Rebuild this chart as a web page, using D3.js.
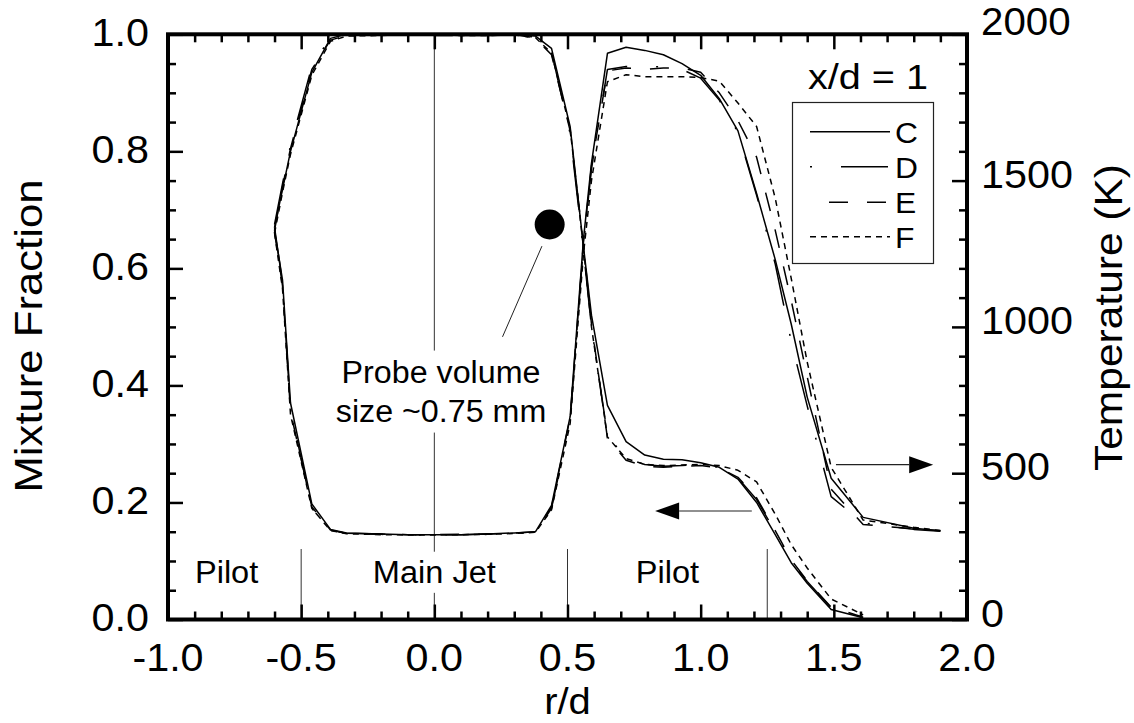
<!DOCTYPE html>
<html>
<head>
<meta charset="utf-8">
<script src="https://cdn.jsdelivr.net/npm/d3@7"></script>
<style>
  html, body { margin: 0; padding: 0; background: #fff; }
  svg { display: block; }
  text { font-family: "Liberation Sans", Arial, Helvetica, sans-serif; fill: #000; }
</style>
</head>
<body>
<svg id="chart" width="1134" height="723"></svg>
<script>
// ---------------- data ----------------
const seriesNames = ["C", "D", "E", "F"];
const rGrid = [-0.60, -0.57, -0.54, -0.46, -0.39, -0.33, -0.20, -0.10, 0.00, 0.10, 0.20, 0.30,
  0.38, 0.44, 0.51, 0.56, 0.59, 0.65, 0.72, 0.79, 0.86, 0.93, 1.00, 1.07, 1.14, 1.21, 1.28,
  1.34, 1.40, 1.49, 1.61, 1.80, 1.90];

// mixture fraction (left axis)
const mixC = [0.670, 0.735, 0.800, 0.935, 0.993, 1.000, 1.000, 1.000, 1.000, 1.000, 1.000, 1.000,
  0.997, 0.976, 0.842, 0.637, 0.520, 0.366, 0.304, 0.281, 0.274, 0.273, 0.268, 0.260, 0.240, 0.200, 0.145,
  0.097, 0.062, 0.017, 0.003, null, null];
const mixD = [0.675, 0.745, 0.810, 0.945, 0.995, 0.999, 1.000, 1.000, 0.999, 0.998, 0.998, 0.999,
  0.995, 0.970, 0.830, 0.630, 0.500, 0.315, 0.275, 0.265, 0.262, 0.263, 0.265, 0.260, 0.242, 0.205, 0.150,
  0.100, 0.065, 0.020, 0.004, null, null];
const mixE = [0.665, 0.740, 0.805, 0.940, 0.990, 0.998, 0.999, 0.999, 0.998, 0.998, 0.999, 1.000,
  0.993, 0.965, 0.835, 0.640, 0.505, 0.310, 0.272, 0.262, 0.260, 0.262, 0.263, 0.259, 0.243, 0.208, 0.152,
  0.102, 0.066, 0.021, 0.004, null, null];
const mixF = [0.660, 0.730, 0.795, 0.930, 0.988, 0.997, 0.998, 0.999, 0.999, 0.998, 0.998, 0.999,
  0.994, 0.968, 0.838, 0.635, 0.500, 0.312, 0.275, 0.265, 0.263, 0.264, 0.265, 0.263, 0.255, 0.235, 0.180,
  0.128, 0.088, 0.035, 0.008, null, null];

// temperature in K (right axis)
const tempC = [1330, 1160, 740, 395, 308, 296, 292, 290, 290, 290, 292, 296,
  300, 390, 694, 1300, 1560, 1935, 1956, 1945, 1930, 1900, 1860, 1780, 1670, 1456, 1230,
  1010, 760, 483, 349, 312, 303];
const tempD = [1340, 1150, 720, 380, 305, 295, 292, 290, 289, 290, 292, 295,
  298, 380, 680, 1280, 1540, 1880, 1890, 1887, 1890, 1880, 1850, 1775, 1665, 1450, 1215,
  950, 730, 420, 330, 308, 302];
const tempE = [1325, 1140, 710, 385, 306, 294, 291, 290, 290, 291, 292, 295,
  300, 385, 690, 1290, 1550, 1875, 1885, 1880, 1885, 1885, 1870, 1800, 1705, 1580, 1330,
  1090, 830, 445, 325, 310, 303];
const tempF = [1320, 1130, 700, 380, 304, 293, 290, 289, 289, 290, 291, 294,
  298, 375, 670, 1250, 1500, 1838, 1862, 1855, 1855, 1855, 1852, 1840, 1765, 1685, 1440,
  1166, 880, 520, 340, 315, 304];

const xTicksMajor = [-1.0, -0.5, 0.0, 0.5, 1.0, 1.5, 2.0];
const xTickLabels = ["-1.0", "-0.5", "0.0", "0.5", "1.0", "1.5", "2.0"];
const yTicksMajor = [0.0, 0.2, 0.4, 0.6, 0.8, 1.0];
const yTickLabels = ["0.0", "0.2", "0.4", "0.6", "0.8", "1.0"];
const tTicksMajor = [0, 500, 1000, 1500, 2000];
const tTickLabels = ["0", "500", "1000", "1500", "2000"];

const regionBounds = [-0.5, 0.5, 1.25];
const regionLabels = [{text: "Pilot", r: -0.78}, {text: "Main Jet", r: 0.0}, {text: "Pilot", r: 0.875}];

// ---------------- layout ----------------
const svg = d3.select("#chart");
const L = 168, R = 967, T = 34.3, B = 619.5;
const x = d3.scaleLinear().domain([-1, 2]).range([L, R]);
const y = d3.scaleLinear().domain([0, 1]).range([B, T]);
const yT = d3.scaleLinear().domain([0, 2000]).range([B, T]);

function addText(parent, px, py, str, size, anchor, sx, rot) {
  const g = parent.append("g").attr("transform", `translate(${px},${py})` + (rot ? ` rotate(${rot})` : ""));
  return g.append("text")
    .attr("transform", `scale(${sx},1)`)
    .attr("text-anchor", anchor)
    .style("font-size", size + "px")
    .text(str);
}

// reference lines
const refG = svg.append("g").attr("stroke", "#333").attr("stroke-width", 1);
refG.append("line").attr("x1", x(0)).attr("x2", x(0)).attr("y1", T).attr("y2", B);
regionBounds.forEach(v => {
  refG.append("line").attr("x1", x(v)).attr("x2", x(v)).attr("y1", 549).attr("y2", B);
});

// region labels with white boxes
const labG = svg.append("g");
regionLabels.forEach(d => {
  const t = addText(labG, x(d.r), 583, d.text, 31, "middle", 1.05, 0);
  if (d.text === "Main Jet") {
    const bb = t.node().getBBox();
    labG.insert("rect", ":first-child")
      .attr("x", x(d.r) + bb.x * 1.05 - 4).attr("y", 583 + bb.y - 3)
      .attr("width", bb.width * 1.05 + 8).attr("height", bb.height + 6)
      .attr("fill", "#fff");
  }
});

// probe annotation
const probeG = svg.append("g");
const p1 = addText(probeG, 441, 383, "Probe volume", 31, "middle", 1.04, 0);
const p2 = addText(probeG, 441, 421.7, "size ~0.75 mm", 31, "middle", 1.04, 0);
{
  const b1 = p1.node().getBBox(), b2 = p2.node().getBBox();
  const w = Math.max(b1.width, b2.width) * 1.04;
  probeG.insert("rect", ":first-child")
    .attr("x", 441 - w / 2 - 4).attr("y", 383 + b1.y - 4)
    .attr("width", w + 8).attr("height", (421.7 + b2.y + b2.height) - (383 + b1.y) + 8)
    .attr("fill", "#fff");
}
const probeDot = {r: 0.433, f: 0.675};
const leader = [{r: 0.404, f: 0.638}, {r: 0.256, f: 0.483}];
svg.append("circle").attr("cx", x(probeDot.r)).attr("cy", y(probeDot.f)).attr("r", 15).attr("fill", "#000");
svg.append("line").attr("x1", x(leader[0].r)).attr("y1", y(leader[0].f))
  .attr("x2", x(leader[1].r)).attr("y2", y(leader[1].f))
  .attr("stroke", "#222").attr("stroke-width", 1);

// arrows
function arrow(r0, r1, f) {
  const x0 = x(r0), x1 = x(r1), yy = y(f);
  const dir = Math.sign(x1 - x0);
  const head = 24, hh = 8.5;
  svg.append("line").attr("x1", x0).attr("x2", x1 - dir * head).attr("y1", yy).attr("y2", yy)
    .attr("stroke", "#222").attr("stroke-width", 1.2);
  svg.append("path")
    .attr("d", `M${x1},${yy}L${x1 - dir * head},${yy - hh}L${x1 - dir * head},${yy + hh}Z`)
    .attr("fill", "#000");
}
arrow(1.508, 1.873, 0.2645);
arrow(1.192, 0.829, 0.1854);

// curves
const dashes = {C: null, D: "47,29,2,29", E: "19,19", F: "6,5"};
const mixData = {C: mixC, D: mixD, E: mixE, F: mixF};
const tempData = {C: tempC, D: tempD, E: tempE, F: tempF};
const curveG = svg.append("g").attr("fill", "none").attr("stroke", "#000").attr("stroke-width", 1.5)
  .attr("stroke-linejoin", "round");
const lineMix = d3.line().defined(d => d[1] != null).x(d => x(d[0])).y(d => y(d[1]));
const lineTemp = d3.line().defined(d => d[1] != null).x(d => x(d[0])).y(d => yT(d[1]));
seriesNames.forEach(s => {
  curveG.append("path").attr("d", lineMix(rGrid.map((r, i) => [r, mixData[s][i]])))
    .attr("stroke-dasharray", dashes[s]);
  curveG.append("path").attr("d", lineTemp(rGrid.map((r, i) => [r, tempData[s][i]])))
    .attr("stroke-dasharray", dashes[s]);
});

// axes ticks (inward)
const axG = svg.append("g");
function ticks(axisFn, scale, values, size, tx, ty) {
  const a = axisFn(scale).tickValues(values).tickSize(size).tickFormat("");
  const g = axG.append("g").attr("transform", `translate(${tx},${ty})`).call(a);
  g.select(".domain").remove();
  g.selectAll("line").attr("stroke", "#000").attr("stroke-width", 2.5);
}
const xMinor = d3.range(-10, 21).map(i => i / 10).filter(v => Math.abs(v * 2 - Math.round(v * 2)) > 1e-6);
const yMinor = d3.range(0, 21).map(i => i / 20).filter(v => Math.abs(v * 5 - Math.round(v * 5)) > 1e-6);
const tMinor = d3.range(0, 21).map(i => i * 100).filter(v => v % 500 !== 0);
ticks(d3.axisBottom, x, xTicksMajor, -15, 0, B);
ticks(d3.axisBottom, x, xMinor, -8, 0, B);
ticks(d3.axisTop, x, xTicksMajor, -15, 0, T);
ticks(d3.axisTop, x, xMinor, -8, 0, T);
ticks(d3.axisLeft, y, yTicksMajor, -15, L, 0);
ticks(d3.axisLeft, y, yMinor, -8, L, 0);
ticks(d3.axisRight, yT, tTicksMajor, -15, R, 0);
ticks(d3.axisRight, yT, tMinor, -8, R, 0);

// frame
svg.append("rect").attr("x", L).attr("y", T).attr("width", R - L).attr("height", B - T)
  .attr("fill", "none").attr("stroke", "#000").attr("stroke-width", 4);

// tick labels
const tl = svg.append("g");
xTicksMajor.forEach((v, i) => addText(tl, x(v), 671, xTickLabels[i], 39, "middle", 1.06, 0));
yTicksMajor.forEach((v, i) => addText(tl, 149, y(v) + 11.5, yTickLabels[i], 39, "end", 1.06, 0));
tTicksMajor.forEach((v, i) => addText(tl, 981, yT(v) + (v === 2000 ? 0.5 : 7), tTickLabels[i], v === 2000 ? 38 : 39, "start", 1.06, 0));

// axis titles
addText(svg, 567.5, 714, "r/d", 37, "middle", 1.08, 0);
addText(svg, 42, 336, "Mixture Fraction", 39, "middle", 1.12, -90);
addText(svg, 1122, 317.5, "Temperature (K)", 39, "middle", 1.09, -90);

// legend
const lg = svg.append("g");
lg.append("rect").attr("x", 792.5).attr("y", 102.5).attr("width", 141).attr("height", 161)
  .attr("fill", "#fff").attr("stroke", "#222").attr("stroke-width", 1.2);
const legY = [131.7, 166.7, 202.3, 236.7];
const legOffset = {C: 0, D: 76, E: 19, F: 0};
seriesNames.forEach((s, i) => {
  lg.append("line").attr("x1", 810).attr("x2", 890).attr("y1", legY[i]).attr("y2", legY[i])
    .attr("stroke", "#000").attr("stroke-width", 1.5)
    .attr("stroke-dasharray", dashes[s]).attr("stroke-dashoffset", legOffset[s]);
  addText(lg, 895, legY[i] + 11, s, 30, "start", 1.06, 0);
});
addText(svg, 928, 89, "x/d = 1", 36, "end", 1.1, 0);
</script>
</body>
</html>
